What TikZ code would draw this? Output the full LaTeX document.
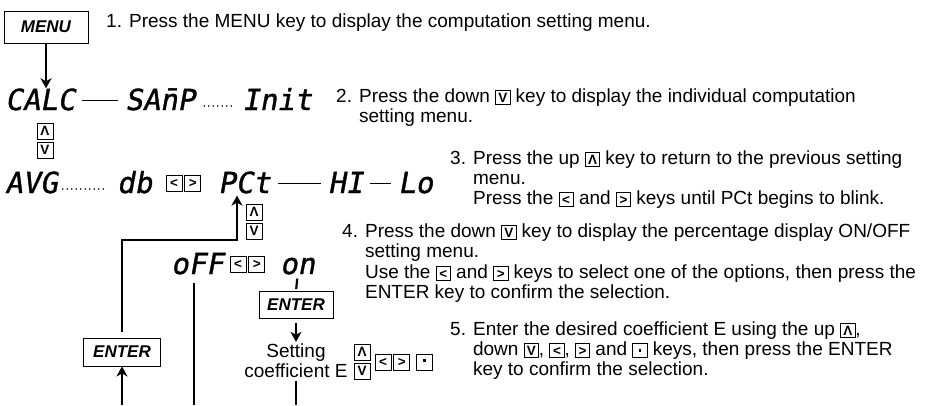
\documentclass[tikz,border=0pt]{standalone}
\usepackage{fontspec}
\setmainfont{Liberation Sans}
\newfontfamily\segfont{DejaVu Sans Mono}[FakeSlant=0.18,FakeBold=1.2]
\usetikzlibrary{arrows.meta,positioning,calc}

\newcommand{\dotkey}{\raisebox{3.8pt}{\rule{2.8pt}{2.8pt}}}
\newcommand{\kbox}[1]{{\setlength{\fboxsep}{0pt}\setlength{\fboxrule}{0.8pt}%
  \fbox{\makebox[13.5pt]{\rule[-1.5pt]{0pt}{14pt}\fontsize{13.5}{13.5}\selectfont\bfseries #1}}}}

\begin{document}
\begin{tikzpicture}[x=1pt,y=-1pt,
  display/.style={font=\segfont\fontsize{29}{29}\selectfont,inner sep=0pt,anchor=base west},
  keybox/.style={draw,line width=0.8pt,minimum width=16pt,minimum height=16pt,inner sep=0pt,
    font=\fontsize{13.5}{13.5}\selectfont\bfseries},
  keycap/.style={draw,line width=0.9pt,inner sep=0pt,font=\fontsize{17}{17}\selectfont\bfseries\itshape},
  instr/.style={anchor=north west,inner sep=0pt,align=left,font=\fontsize{19}{20}\selectfont},
  flow/.style={line width=2.2pt},
  flowarrow/.style={line width=2.2pt,-{Stealth[length=10pt,width=11pt,inset=3pt]}},
  segline/.style={line width=0.8pt,shorten <=7pt,shorten >=7pt},
  segdots/.style={line width=1.7pt,line cap=round,dash pattern=on 0pt off 4.5pt}]
\useasboundingbox (0,0) rectangle (927,405);

% step 1
\node[keycap,minimum width=84pt,minimum height=32pt] (menu) at (46,27) {MENU};
\node[instr] (t1) at (106,14) {1. Press the MENU key to display the computation setting menu.};

% computation setting menu
\node[display] (calc) at (5,110) {CALC};
\node[display] (samp) at (125,110) {SA\=nP};
\node[display] (init) at (242,110) {Init};
\draw[segline] ([yshift=10pt]calc.base east) -- ([yshift=10pt]samp.base west);
\draw[segdots,shorten <=9pt,shorten >=8pt] ([yshift=4pt]samp.base east) -- ([yshift=4pt]init.base west);
\draw[flowarrow] (menu.south) -- (menu.south |- calc.north);

\node[instr] (t2) at (336,89) {2. Press the down \kbox{V} key to display the individual computation\\
  \hphantom{2. }setting menu.};

\node[keybox] (up1) at (45,131) {Λ};
\node[keybox] (dn1) at (45,150) {V};

% individual computation menu
\node[display] (avg) at (5,193) {AVG};
\node[display] (db) at (117,193) {db};
\node[keybox] (lt1) at (174,183) {<};
\node[keybox,right=2pt of lt1] (rt1) {>};
\node[display] (pct) at (218,193) {PCt};
\node[display] (hi) at (328,193) {HI};
\node[display] (lo) at (398,193) {Lo};
\draw[segdots,shorten <=5pt,shorten >=10pt] ([yshift=4pt]avg.base east) -- ([yshift=4pt]db.base west);
\draw[segline] ([yshift=10pt]pct.base east) -- ([yshift=10pt]hi.base west);
\draw[segline] ([yshift=10pt]hi.base east) -- ([yshift=10pt]lo.base west);

\node[instr] (t3) at (450,151) {3. Press the up \kbox{Λ} key to return to the previous setting\\
  \hphantom{3. }menu.\\
  \hphantom{3. }Press the \kbox{<} and \kbox{>} keys until PCt begins to blink.};

\node[keybox] (up2) at (254,212) {Λ};
\node[keybox] (dn2) at (254,231) {V};

% percentage display on/off
\node[display] (off) at (171,274) {oFF};
\node[keybox] (lt2) at (238,264) {<};
\node[keybox,right=2pt of lt2] (rt2) {>};
\node[display] (on) at (280,274) {on};

\node[instr] (t4) at (342,224) {4. Press the down \kbox{V} key to display the percentage display ON/OFF\\
  \hphantom{4. }setting menu.\\[1pt]
  \hphantom{4. }Use the \kbox{<} and \kbox{>} keys to select one of the options, then press the\\
  \hphantom{4. }ENTER key to confirm the selection.};

\node[keycap,minimum width=74pt,minimum height=27pt] (enterR) at (296,305) {ENTER};
\node[align=center,inner sep=0pt,font=\fontsize{19}{20}\selectfont] (coef) at (296,361) {Setting\\coefficient E};
\node[keybox] (up3) at (362,352) {Λ};
\node[keybox] (dn3) at (362,371) {V};
\node[keybox] (lt3) at (383,362) {<};
\node[keybox,right=2pt of lt3] (rt3) {>};
\node[keybox,right=6pt of rt3] (pt3) {\dotkey};

\node[instr] (t5) at (450,322) {5. Enter the desired coefficient E using the up \kbox{Λ},\\
  \hphantom{5. }down \kbox{V}, \kbox{<}, \kbox{>} and \kbox{\dotkey} keys, then press the ENTER\\
  \hphantom{5. }key to confirm the selection.};

\node[keycap,minimum width=77pt,minimum height=28pt] (enterL) at (122,352) {ENTER};

% flow lines
\coordinate (bend) at (237,240);
\coordinate (inL) at (122,405);
\draw[flowarrow,shorten <=6pt,shorten >=2pt] (enterL.north) |- (bend) -- (bend |- pct.south);
\draw[flowarrow] (inL) -- (enterL.south);
\draw[flow,shorten <=8pt] ([xshift=-3pt]off.south) -- ([xshift=-3pt]off.south |- inL);
\draw[flow,shorten <=4pt,shorten >=2pt] (on.south) -- (enterR.north);
\draw[flowarrow,shorten <=4pt,shorten >=2pt] (enterR.south) -- (coef.north);
\draw[flow,shorten <=3pt] (coef.south) -- (coef.south |- inL);
\end{tikzpicture}
\end{document}
